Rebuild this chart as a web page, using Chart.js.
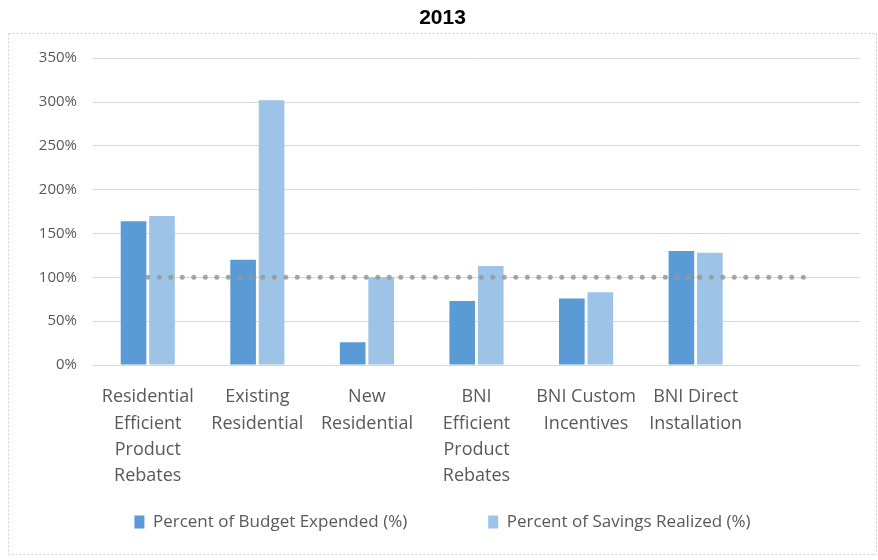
<!DOCTYPE html>
<html>
<head>
<meta charset="utf-8">
<script src="https://cdn.jsdelivr.net/npm/chart.js@4/dist/chart.umd.min.js"></script>
<style>
  html, body { margin: 0; padding: 0; background: #fff; }
  canvas { display: block; }
</style>
</head>
<body>
<canvas id="myChart" width="878" height="560"></canvas>
<script>
const categories = [
  ['Residential', 'Efficient', 'Product', 'Rebates'],
  ['Existing', 'Residential'],
  ['New', 'Residential'],
  ['BNI', 'Efficient', 'Product', 'Rebates'],
  ['BNI Custom', 'Incentives'],
  ['BNI Direct', 'Installation'],
  '',
];
const budgetExpended = [164, 120, 26, 73, 76, 130, null];
const savingsRealized = [170, 302, 100, 113, 83, 128, null];
const target = [100, 100, 100, 100, 100, 100, 100];
const yTicks = [0, 50, 100, 150, 200, 250, 300, 350];

// dashed frame round the plot and legend
const frame = {
  id: 'frame',
  beforeDraw(chart) {
    const c = chart.ctx;
    c.save();
    c.strokeStyle = '#cfcfcf';
    c.lineWidth = 1;
    c.setLineDash([2, 2]);
    c.strokeRect(8.5, 33.5, 868, 521);
    c.restore();
  },
};

const ctx = document.getElementById('myChart').getContext('2d');
new Chart(ctx, {
  type: 'bar',
  data: {
    labels: categories,
    datasets: [
      {
        type: 'line',
        label: 'Target',
        data: target,
        borderColor: 'rgba(150, 150, 150, 0.85)',
        borderWidth: 5,
        borderDash: [0, 11.5],
        borderCapStyle: 'round',
        pointRadius: 0,
        order: 0,
      },
      {
        label: 'Percent of Budget Expended (%)',
        data: budgetExpended,
        backgroundColor: '#5b9bd5',
        order: 1,
      },
      {
        label: 'Percent of Savings Realized (%)',
        data: savingsRealized,
        backgroundColor: '#9dc3e6',
        order: 1,
      },
    ],
  },
  options: {
    responsive: false,
    animation: false,
    categoryPercentage: 0.52,
    barPercentage: 0.9,
    layout: {
      padding: { left: 25, right: 18, top: 0, bottom: 19.5 },
    },
    plugins: {
      title: {
        display: true,
        text: '2013',
        color: '#000',
        font: { family: 'Liberation Sans', size: 21, weight: 'bold' },
        padding: { top: 6, bottom: 27 },
      },
      legend: {
        position: 'bottom',
        labels: {
          filter: (item) => item.text !== 'Target',
          boxWidth: 10,
          boxHeight: 13,
          padding: 81,
          color: '#595959',
          font: { family: 'Open Sans', size: 17 },
        },
      },
      tooltip: { enabled: false },
    },
    scales: {
      x: {
        afterFit(scale) {
          // labels run down into the legend's top padding, so don't clip them
          scale.height = 67.5;
          scale._computeLabelArea = () => undefined;
        },
        grid: { display: false, drawTicks: false },
        border: { display: false },
        ticks: {
          color: '#595959',
          font: { family: 'Open Sans', size: 18, lineHeight: 1.46 },
          maxRotation: 0,
          autoSkip: false,
          padding: 19,
        },
      },
      y: {
        min: 0,
        max: 350,
        afterFit(scale) { scale.width = 68; },
        afterBuildTicks(scale) { scale.ticks = yTicks.map((v) => ({ value: v })); },
        grid: { color: '#d9d9d9', drawTicks: false },
        border: { display: false },
        ticks: {
          color: '#595959',
          font: { family: 'Open Sans', size: 15 },
          padding: 16,
          callback: (v) => v + '%',
        },
      },
    },
  },
  plugins: [frame],
});
</script>
</body>
</html>
